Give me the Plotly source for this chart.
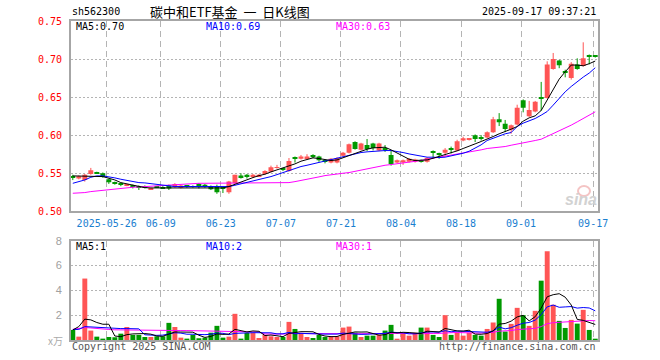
import plotly.graph_objects as go
import pandas as pd

# ---------------- data ----------------
dates = [d.strftime('%Y-%m-%d') for d in pd.bdate_range('2025-05-16', '2025-09-17')
         if d.strftime('%Y-%m-%d') != '2025-06-02']

opens = [0.546,0.543,0.541,0.549,0.551,0.550,0.542,0.538,0.536,0.534,
         0.534,0.533,0.533,0.529,0.532,0.532,0.534,0.532,0.531,0.533,
         0.533,0.536,0.535,0.533,0.533,0.531,0.525,0.537,0.547,0.548,
         0.545,0.546,0.549,0.552,0.557,0.556,0.553,0.571,0.569,0.570,
         0.574,0.572,0.567,0.564,0.564,0.573,0.577,0.591,0.581,0.587,
         0.589,0.580,0.582,0.574,0.564,0.564,0.565,0.565,0.567,0.565,
         0.579,0.576,0.577,0.582,0.580,0.593,0.594,0.600,0.597,0.597,
         0.604,0.621,0.615,0.607,0.614,0.646,0.625,0.631,0.649,0.649,
         0.687,0.698,0.683,0.675,0.693,0.691,0.705,0.704]
highs = [0.548,0.547,0.549,0.557,0.552,0.551,0.543,0.539,0.537,0.536,
         0.535,0.534,0.534,0.531,0.533,0.533,0.535,0.537,0.535,0.534,
         0.534,0.537,0.536,0.534,0.535,0.532,0.540,0.548,0.550,0.549,
         0.549,0.549,0.554,0.560,0.561,0.557,0.570,0.572,0.574,0.575,
         0.575,0.573,0.568,0.570,0.571,0.578,0.589,0.592,0.590,0.595,
         0.590,0.590,0.587,0.580,0.568,0.568,0.570,0.569,0.568,0.571,
         0.580,0.577,0.583,0.585,0.594,0.598,0.596,0.601,0.600,0.605,
         0.624,0.629,0.620,0.614,0.640,0.647,0.645,0.645,0.670,0.697,
         0.708,0.699,0.686,0.696,0.701,0.722,0.706,0.705]
lows = [0.541,0.542,0.539,0.548,0.549,0.544,0.536,0.535,0.533,0.533,
        0.530,0.528,0.530,0.528,0.531,0.530,0.528,0.531,0.530,0.531,
        0.531,0.530,0.531,0.528,0.523,0.524,0.523,0.536,0.543,0.543,
        0.544,0.545,0.548,0.551,0.556,0.553,0.552,0.564,0.568,0.569,
        0.570,0.565,0.563,0.563,0.563,0.572,0.576,0.581,0.580,0.579,
        0.580,0.579,0.578,0.560,0.563,0.561,0.564,0.564,0.564,0.564,
        0.569,0.569,0.572,0.576,0.579,0.592,0.593,0.591,0.593,0.596,
        0.603,0.612,0.604,0.602,0.613,0.630,0.624,0.630,0.632,0.648,
        0.686,0.688,0.676,0.673,0.686,0.690,0.693,0.702]
closes = [0.544,0.546,0.548,0.554,0.550,0.545,0.538,0.536,0.535,0.535,
          0.532,0.531,0.531,0.530,0.5315,0.530,0.530,0.536,0.534,0.5325,
          0.532,0.532,0.532,0.529,0.525,0.530,0.539,0.548,0.545,0.545,
          0.548,0.548,0.553,0.558,0.558,0.555,0.566,0.570,0.572,0.572,
          0.571,0.567,0.566,0.569,0.570,0.577,0.588,0.582,0.589,0.582,
          0.583,0.589,0.581,0.562,0.567,0.567,0.569,0.568,0.566,0.570,
          0.577,0.574,0.581,0.581,0.592,0.596,0.595,0.595,0.596,0.604,
          0.621,0.617,0.608,0.613,0.636,0.636,0.633,0.644,0.648,0.693,
          0.700,0.692,0.682,0.694,0.687,0.701,0.704,0.703]

ma5 = [0.5465,0.5465,0.5465,0.5465,0.5465,0.5456,0.5434,0.5412,0.5377,0.5360,
       0.5342,0.5325,0.5311,0.5307,0.5307,0.5307,0.5307,0.5311,0.5311,0.5311,
       0.5311,0.5307,0.5307,0.5307,0.5303,0.5307,0.5325,0.5355,0.5390,0.5421,
       0.5443,0.5469,0.5487,0.5518,0.5544,0.5566,0.5588,0.5623,0.5658,0.5684,
       0.5702,0.5693,0.5675,0.5667,0.5675,0.5702,0.5737,0.5763,0.5789,0.5816,
       0.5833,0.5842,0.5842,0.5807,0.5763,0.5719,0.5684,0.5667,0.5667,0.5675,
       0.5697,0.5719,0.5741,0.5763,0.5794,0.5825,0.5860,0.5886,0.5917,0.5947,
       0.5982,0.6018,0.6044,0.6079,0.6114,0.6184,0.6228,0.6254,0.6325,0.6465,
       0.6596,0.6737,0.6833,0.6921,0.6921,0.6912,0.6939,0.6974]
ma10 = [0.5368,0.5386,0.5412,0.5447,0.5465,0.5465,0.5456,0.5439,0.5421,0.5404,
        0.5386,0.5377,0.5373,0.5364,0.5351,0.5338,0.5329,0.5325,0.5325,0.5325,
        0.5325,0.5325,0.5325,0.5325,0.5325,0.5325,0.5325,0.5342,0.5360,0.5377,
        0.5395,0.5412,0.5439,0.5456,0.5482,0.5509,0.5535,0.5561,0.5588,0.5605,
        0.5623,0.5640,0.5658,0.5684,0.5693,0.5711,0.5737,0.5754,0.5772,0.5781,
        0.5789,0.5794,0.5798,0.5798,0.5789,0.5772,0.5754,0.5737,0.5719,0.5711,
        0.5711,0.5706,0.5711,0.5728,0.5741,0.5763,0.5789,0.5829,0.5873,0.5930,
        0.5961,0.5996,0.6018,0.6035,0.6114,0.6158,0.6184,0.6219,0.6263,0.6311,
        0.6395,0.6482,0.6570,0.6640,0.6706,0.6763,0.6816,0.6886]
ma30 = [0.5237,0.5237,0.5246,0.5259,0.5268,0.5276,0.5285,0.5289,0.5298,0.5307,
        0.5316,0.5320,0.5325,0.5329,0.5333,0.5338,0.5342,0.5346,0.5351,0.5355,
        0.5368,0.5368,0.5368,0.5368,0.5368,0.5368,0.5368,0.5368,0.5368,0.5368,
        0.5368,0.5368,0.5368,0.5368,0.5368,0.5368,0.5377,0.5390,0.5408,0.5425,
        0.5439,0.5452,0.5469,0.5482,0.5491,0.5500,0.5509,0.5526,0.5544,0.5561,
        0.5579,0.5596,0.5605,0.5614,0.5623,0.5632,0.5649,0.5658,0.5667,0.5684,
        0.5697,0.5711,0.5724,0.5737,0.5754,0.5763,0.5776,0.5789,0.5807,0.5825,
        0.5833,0.5842,0.5851,0.5868,0.5886,0.5904,0.5917,0.5930,0.5947,0.5982,
        0.6018,0.6053,0.6088,0.6132,0.6175,0.6219,0.6263,0.6307]

volumes = [0.81,0.27,4.95,0.76,0.27,0.11,0.24,0.22,0.51,1.05,
           0.41,0.41,0.24,0.24,0.30,0.30,1.38,1.05,0.19,0.11,
           0.41,0.14,0.19,0.59,1.14,0.19,0.27,2.11,0.11,0.57,
           0.57,0.16,0.41,0.30,0.24,0.24,1.46,0.89,0.54,0.24,
           0.16,0.41,0.24,0.30,0.30,1.00,1.08,0.59,0.24,0.35,
           0.35,0.43,0.76,1.22,0.08,0.59,0.35,0.59,1.00,1.00,
           0.41,0.24,2.00,0.41,0.59,0.35,0.59,0.41,0.35,0.89,
           1.41,3.32,0.68,1.30,2.59,2.00,1.14,2.35,4.78,7.14,
           2.84,1.54,0.97,1.62,1.32,2.43,0.81,0.08]
vol_ma5 = [0.81,1.08,1.68,1.62,1.41,1.27,1.27,0.32,0.27,0.43,
           0.49,0.52,0.52,0.47,0.32,0.30,0.49,0.65,0.64,0.61,
           0.63,0.38,0.21,0.29,0.49,0.45,0.48,0.86,0.76,0.65,
           0.73,0.70,0.36,0.40,0.34,0.27,0.53,0.63,0.67,0.67,
           0.66,0.45,0.32,0.27,0.28,0.45,0.58,0.65,0.64,0.65,
           0.52,0.39,0.43,0.62,0.57,0.62,0.60,0.57,0.52,0.71,
           0.67,0.65,0.93,0.81,0.73,0.72,0.79,0.47,0.46,0.52,
           0.73,1.28,1.33,1.52,1.86,1.98,1.54,1.88,2.57,3.48,
           3.65,3.73,3.45,2.82,1.66,1.58,1.43,1.25]
vol_ma10 = [0.85,0.85,1.08,1.05,1.00,0.98,0.95,0.93,0.92,0.92,
            0.88,0.90,0.42,0.37,0.375,0.395,0.505,0.585,0.555,0.465,
            0.465,0.435,0.43,0.465,0.55,0.54,0.43,0.535,0.525,0.57,
            0.59,0.59,0.61,0.58,0.495,0.50,0.615,0.495,0.535,0.505,
            0.465,0.49,0.475,0.47,0.475,0.555,0.515,0.485,0.455,0.465,
            0.485,0.485,0.54,0.63,0.61,0.57,0.495,0.50,0.57,0.64,
            0.645,0.625,0.75,0.665,0.72,0.695,0.72,0.70,0.635,0.625,
            0.725,1.035,0.90,0.99,1.19,1.355,1.41,1.605,2.045,2.67,
            2.815,2.635,2.665,2.695,2.57,2.615,2.58,2.35]
vol_ma30 = [0.86,0.90,1.00,0.97,0.95,0.93,0.85,0.82,0.81,0.81,
            0.80,0.80,0.78,0.77,0.77,0.76,0.77,0.77,0.76,0.76,
            0.75,0.72,0.70,0.69,0.68,0.68,0.67,0.67,0.66,0.652,
            0.645,0.642,0.487,0.472,0.473,0.478,0.517,0.538,0.538,0.513,
            0.507,0.505,0.505,0.505,0.507,0.532,0.52,0.505,0.505,0.513,
            0.513,0.522,0.542,0.56,0.527,0.542,0.542,0.493,0.52,0.537,
            0.532,0.533,0.588,0.588,0.602,0.607,0.577,0.562,0.553,0.577,
            0.618,0.715,0.73,0.762,0.84,0.873,0.875,0.935,1.083,1.312,
            1.395,1.432,1.438,1.45,1.493,1.555,1.57,1.552]

tick_dates = ['2025-05-26', '2025-06-09', '2025-06-23', '2025-07-07', '2025-07-21',
              '2025-08-04', '2025-08-18', '2025-09-01', '2025-09-17']
tick_text = ['2025-05-26', '06-09', '06-23', '07-07', '07-21', '08-04', '08-18', '09-01', '09-17']
price_ticks = [0.50, 0.55, 0.60, 0.65, 0.70, 0.75]
vol_ticks = [2, 4, 6, 8]

# ---------------- styling ----------------
UP = '#ff5555'
DOWN = '#009900'
GRID = '#b4b4b4'
FRAME = '#a6a6a6'
MONO = 'DejaVu Sans Mono'

n = len(closes)
idx = list(range(n))
colors = [UP if closes[i] >= opens[i] else DOWN for i in idx]
tick_pos = [dates.index(d) - 0.35 for d in tick_dates]

fig = go.Figure()

# wicks
for col in (UP, DOWN):
    wx, wy = [], []
    for i in idx:
        if colors[i] == col:
            wx += [i, i, None]
            wy += [lows[i], highs[i], None]
    fig.add_trace(go.Scatter(x=wx, y=wy, mode='lines', line=dict(color=col, width=1),
                             hoverinfo='skip', showlegend=False, xaxis='x', yaxis='y'))

# bodies
fig.add_trace(go.Bar(x=idx, base=[min(opens[i], closes[i]) for i in idx],
                     y=[max(abs(closes[i] - opens[i]), 0.0012) for i in idx],
                     width=0.82, marker=dict(color=colors, line=dict(width=0)),
                     showlegend=False, xaxis='x', yaxis='y'))

for vals, col in ((ma30, '#ff00ff'), (ma10, '#0000ff'), (ma5, '#000000')):
    fig.add_trace(go.Scatter(x=idx, y=vals, mode='lines', line=dict(color=col, width=1),
                             showlegend=False, xaxis='x', yaxis='y'))

# volume
fig.add_trace(go.Bar(x=idx, y=volumes, width=0.82, marker=dict(color=colors, line=dict(width=0)),
                     showlegend=False, xaxis='x2', yaxis='y2'))
for vals, col in ((vol_ma30, '#ff00ff'), (vol_ma10, '#0000ff'), (vol_ma5, '#000000')):
    fig.add_trace(go.Scatter(x=idx, y=vals, mode='lines', line=dict(color=col, width=1),
                             showlegend=False, xaxis='x2', yaxis='y2'))

L, R, T, B = 71, 62, 21, 20
W, H = 660 - L - R, 360 - T - B
def px(x): return (x - L) / W
def py(y): return (360 - B - y) / H

xr = [-0.30, 87.46]
common_x = dict(range=xr, tickmode='array', tickvals=tick_pos, showgrid=True, gridcolor=GRID,
                griddash='6px,4px', gridwidth=1, zeroline=False, showline=True, mirror=True,
                linecolor=FRAME, linewidth=2, ticks='', fixedrange=True)

fig.update_layout(
    width=660, height=360, margin=dict(l=L, r=R, t=T, b=B),
    paper_bgcolor='white', plot_bgcolor='white', barmode='overlay', showlegend=False,
    xaxis=dict(**common_x, ticktext=tick_text, anchor='y', domain=[0, 1],
               tickfont=dict(family=MONO, size=10, color='#1a80d0'), ticklabelstandoff=2),
    xaxis2=dict(**common_x, ticktext=tick_text, anchor='y2', domain=[0, 1], showticklabels=False),
    yaxis=dict(domain=[py(211.3), 1], range=[0.50, 0.75], tickmode='array', tickvals=price_ticks,
               ticktext=['%.2f' % v for v in price_ticks], showgrid=True, gridcolor=GRID,
               griddash='2px,2px', zeroline=False, showline=True, mirror=True, linecolor=FRAME,
               linewidth=2, ticks='', tickfont=dict(family=MONO, size=10, color='#ff0000'),
               ticklabelstandoff=5, anchor='x', fixedrange=True),
    yaxis2=dict(domain=[0, py(240.7)], range=[0, 8], tickmode='array', tickvals=vol_ticks,
                ticktext=[str(v) for v in vol_ticks], showgrid=True, gridcolor=GRID,
                griddash='2px,2px', zeroline=False, showline=True, mirror=True, linecolor=FRAME,
                linewidth=2, ticks='', tickfont=dict(family='Liberation Sans', size=11, color='#a0a0a0'),
                ticklabelstandoff=5, anchor='x2', fixedrange=True),
)

def ann(text, x, y, anchor='left', size=10, color='black', family=MONO):
    fig.add_annotation(text=text, x=px(x), y=py(y), xref='paper', yref='paper', showarrow=False,
                       xanchor=anchor, yanchor='middle', font=dict(family=family, size=size, color=color))

NB = '\u00a0'
ann('sh562300', 70, 12)
ann('碳中和ETF基金' + NB * 2 + '一' + NB * 2 + '日K线图', 230, 12, anchor='center', size=13,
    family='Noto Sans CJK SC')
ann('2025-09-17 09:37:21', 598, 12, anchor='right')
ann('MA5:%.2f' % ma5[-1], 74, 27)
ann('MA10:%.2f' % ma10[-1], 204, 27, color='#0000ff')
ann('MA30:%.2f' % ma30[-1], 334, 27, color='#ff00ff')
ann('MA5:%d' % int(vol_ma5[-1]), 74, 246)
ann('MA10:%d' % int(vol_ma10[-1]), 204, 246, color='#0000ff')
ann('MA30:%d' % int(vol_ma30[-1]), 334, 246, color='#ff00ff')
ann('x万', 65, 340, anchor='right', size=10, color='#aaaaaa', family='Noto Sans CJK SC')
ann('Copyright 2025 SINA.COM', 70, 346, color='#555555')
ann('http://finance.sina.com.cn', 598, 346, anchor='right', color='#555555')

# faint sina watermark
fig.add_shape(type='circle', xref='paper', yref='paper', x0=px(578), x1=px(590), y0=py(196), y1=py(186),
              line=dict(color='#f4c4c4', width=2), fillcolor='rgba(255,255,255,0)', layer='below')
ann('<b><i>sina</i></b>', 581, 199, anchor='center', size=16, color='#d2d2d2', family='Liberation Sans')

fig.write_html('out.html', config={'displayModeBar': False},
               post_script="document.body.style.margin='0';")
